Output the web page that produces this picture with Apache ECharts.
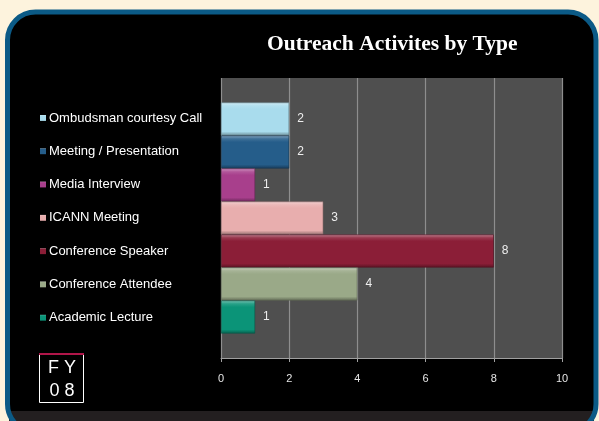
<!DOCTYPE html>
<html>
<head>
<meta charset="utf-8">
<title>Outreach Activites by Type</title>
<script src="https://cdn.jsdelivr.net/npm/echarts@6/dist/echarts.min.js"></script>
<style>
  html, body { margin: 0; padding: 0; background: #fdf3dd; }
  #chart { width: 599px; height: 421px; }
</style>
</head>
<body>
<div id="chart"></div>
<script>
// one category (the fiscal year), one series per activity type, top to bottom
const categories = ['FY 08'];
const seriesNames = [
  'Ombudsman courtesy Call',
  'Meeting / Presentation',
  'Media Interview',
  'ICANN Meeting',
  'Conference Speaker',
  'Conference Attendee',
  'Academic Lecture'
];
const seriesValues = [2, 2, 1, 3, 8, 4, 1];
const seriesColors = ['#a9dced', '#255d8a', '#a83f8c', '#e8aeae', '#8b1e37', '#9aa988', '#0b9478'];
const xTicks = [0, 2, 4, 6, 8, 10];

const shade = (hex, amt) => {
  const n = parseInt(hex.slice(1), 16);
  const f = (c) => Math.max(0, Math.min(255, Math.round(amt > 0 ? c + (255 - c) * amt : c * (1 + amt))));
  const r = f(n >> 16), g = f((n >> 8) & 255), b = f(n & 255);
  return 'rgb(' + r + ',' + g + ',' + b + ')';
};

const bevel = (hex) => ({
  type: 'linear', x: 0, y: 0, x2: 0, y2: 1,
  colorStops: [
    { offset: 0, color: shade(hex, 0.45) },
    { offset: 0.1, color: shade(hex, 0.12) },
    { offset: 0.2, color: hex },
    { offset: 0.88, color: hex },
    { offset: 1, color: shade(hex, -0.35) }
  ]
});

const chart = echarts.init(document.getElementById('chart'));

const option = {
  backgroundColor: 'transparent',
  animation: false,
  title: {
    text: 'Outreach Activites by Type',
    left: 262,
    top: 28,
    textStyle: {
      color: '#ffffff',
      fontFamily: 'Liberation Serif',
      fontWeight: 'bold',
      fontSize: 21.5
    }
  },
  legend: {
    orient: 'vertical',
    left: 35,
    top: 106,
    icon: 'rect',
    itemWidth: 6,
    itemHeight: 6,
    itemGap: 19.3,
    selectedMode: false,
    data: seriesNames,
    itemStyle: { borderWidth: 0 },
    textStyle: {
      color: '#ffffff',
      fontFamily: 'Liberation Sans',
      fontSize: 13,
      lineHeight: 14,
      padding: [0, 0, 0, -2]
    }
  },
  grid: {
    left: 221,
    right: 37,
    top: 78,
    bottom: 63,
    show: true,
    backgroundColor: '#4f4f4f',
    borderWidth: 0
  },
  xAxis: {
    type: 'value',
    min: xTicks[0],
    max: xTicks[xTicks.length - 1],
    interval: xTicks[1] - xTicks[0],
    axisLine: { show: true, lineStyle: { color: '#a0a0a0', width: 1 } },
    axisTick: { show: true, length: 4, lineStyle: { color: '#a0a0a0' } },
    axisLabel: { color: '#e6e6e6', fontSize: 11, margin: 15, fontFamily: 'Liberation Sans' },
    splitLine: { show: true, lineStyle: { color: '#8e8e8e', width: 1.2 } }
  },
  yAxis: {
    type: 'category',
    data: categories,
    axisLine: { show: false },
    axisTick: { show: false },
    axisLabel: { show: false }
  },
  series: seriesNames.map((name, i) => ({
    name: name,
    type: 'bar',
    data: [seriesValues[i]],
    barGap: 0,
    barCategoryGap: '17.5%',
    itemStyle: {
      color: bevel(seriesColors[i]),
      borderColor: shade(seriesColors[i], -0.4),
      borderWidth: 0.6
    },
    label: {
      show: true,
      position: 'right',
      distance: 8,
      color: '#eeeeee',
      fontSize: 12,
      fontFamily: 'Liberation Sans'
    }
  })),
  graphic: [
    {
      type: 'rect',
      z: -10,
      shape: { x: 8, y: 12, width: 588, height: 420, r: 28 },
      style: { fill: '#000000' }
    },
    {
      type: 'rect',
      z: -9,
      shape: { x: 9, y: 411, width: 585, height: 12 },
      style: { fill: '#231f20' }
    },
    {
      type: 'rect',
      z: 100,
      shape: { x: 7.5, y: 12, width: 588.5, height: 420, r: 28 },
      style: { fill: 'none', stroke: '#0b5a86', lineWidth: 5 }
    },
    {
      type: 'rect',
      shape: { x: 39.5, y: 354.5, width: 44, height: 48 },
      style: { fill: 'none', stroke: '#ffffff', lineWidth: 1 }
    },
    {
      type: 'rect',
      shape: { x: 39, y: 353, width: 45, height: 2 },
      style: { fill: '#b0164a' }
    },
    {
      type: 'text',
      x: 62,
      y: 357,
      style: {
        text: 'F Y\n0 8',
        fill: '#ffffff',
        font: '18px "Liberation Sans"',
        lineHeight: 23,
        align: 'center'
      }
    }
  ]
};

chart.setOption(option);
</script>
</body>
</html>
